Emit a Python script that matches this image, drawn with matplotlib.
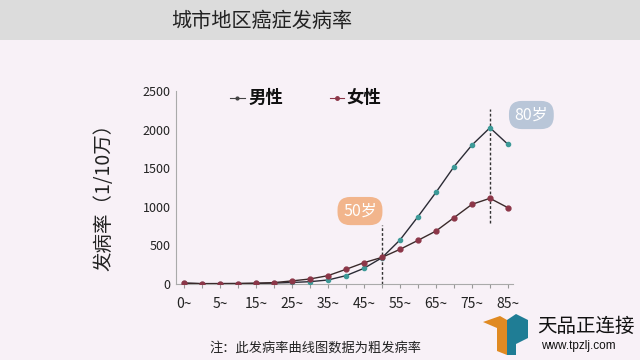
import numpy as np
import matplotlib.pyplot as plt
from matplotlib.patches import Rectangle, Polygon

plt.rcParams['font.family'] = ['Noto Sans CJK SC', 'DejaVu Sans']

# data
ages = ['0~', '1~', '5~', '10~', '15~', '20~', '25~', '30~', '35~', '40~',
        '45~', '50~', '55~', '60~', '65~', '70~', '75~', '80~', '85~']
male = [12, 5, 5, 6, 8, 12, 20, 30, 52, 108, 203, 340, 570, 872, 1187, 1519, 1800, 2024, 1809]
female = [10, 4, 5, 6, 10, 18, 40, 65, 108, 190, 276, 345, 449, 565, 686, 859, 1032, 1110, 988]
tick_labels = [a if i % 2 == 0 else '' for i, a in enumerate(ages)]

bg = '#f8f1f7'
fig = plt.figure(figsize=(6.4, 3.6), dpi=100, facecolor=bg)

# title band
fig.patches.append(Rectangle((0, 1 - 40 / 360), 1, 40 / 360, transform=fig.transFigure,
                             facecolor='#dcdcdc', edgecolor='none', zorder=0))
fig.text(262 / 640, 1 - 21 / 360, '城市地区癌症发病率', ha='center', va='center',
         fontsize=14.5, color='#222222')

ax = fig.add_axes([176 / 640, 1 - 284 / 360, (513 - 176) / 640, (284 - 91) / 360])
ax.set_facecolor(bg)
x = np.arange(len(ages))

ax.plot(x, male, color='#2b2b35', lw=1.0, marker='o', ms=3,
        mfc='#3d9a98', mec='#3d9a98', zorder=3)
ax.plot(x, female, color='#3a2a2a', lw=1.0, marker='o', ms=3.5,
        mfc='#8c3648', mec='#8c3648', zorder=3)

# dashed markers at 50 and 80
ax.vlines(11, 0, 760, colors='#333333', linestyles=(0, (2, 1.5)), lw=1.0, zorder=2)
ax.vlines(17, 790, 2270, colors='#333333', linestyles=(0, (2, 1.5)), lw=1.0, zorder=2)

ax.set_xlim(-0.44, 18.28)
ax.set_ylim(0, 2500)
ax.set_yticks([0, 500, 1000, 1500, 2000, 2500])
ax.set_xticks(x)
ax.set_xticklabels(tick_labels)
ax.tick_params(axis='x', length=3, color='#999999', labelsize=10, labelcolor='#222222', pad=6)
ax.tick_params(axis='y', length=0, labelsize=9, labelcolor='#222222', pad=4)
for s in ['top', 'right']:
    ax.spines[s].set_visible(False)
ax.spines['left'].set_color('#aaaaaa')
ax.spines['bottom'].set_color('#aaaaaa')

ax.set_ylabel('发病率（1/10万）', fontsize=14, color='#222222')
ax.yaxis.set_label_coords(-(176 - 114) / 337, 0.477)

# legend-like labels
ly_leg = 2410
ax.plot([2.55, 3.4], [ly_leg, ly_leg], color='#444444', lw=0.8, clip_on=False)
ax.plot([2.95], [ly_leg], 'o', ms=2, color='#444444', clip_on=False)
ax.text(3.6, ly_leg, '男性', fontsize=12.5, va='center', color='#111111', fontweight='bold')
ax.plot([8.1, 8.9], [ly_leg, ly_leg], color='#8c3648', lw=0.8, clip_on=False)
ax.plot([8.5], [ly_leg], 'o', ms=2.5, color='#8c3648', clip_on=False)
ax.text(9.0, ly_leg, '女性', fontsize=12.5, va='center', color='#111111', fontweight='bold')

# age badges
ax.text(9.78, 945, '50岁', fontsize=11.5, ha='center', va='center', color='white',
        bbox=dict(boxstyle='round,pad=0.35,rounding_size=0.8', fc='#f2b58c', ec='none'))
ax.text(19.3, 2189, '80岁', fontsize=11.5, ha='center', va='center', color='white',
        clip_on=False,
        bbox=dict(boxstyle='round,pad=0.35,rounding_size=0.8', fc='#b9c6d8', ec='none'))

# footnote
fig.text(315 / 640, 1 - 348 / 360, '注：此发病率曲线图数据为粗发病率', ha='center', va='center',
         fontsize=9.5, color='#222222')

# logo
def fp(px, py):
    return [px / 640, 1 - py / 360]

fig.patches.append(Polygon([fp(483, 322), fp(500, 316), fp(507, 320), fp(507, 355),
                            fp(497, 351), fp(497, 328)], closed=True,
                           transform=fig.transFigure, facecolor='#e08a22', edgecolor='none'))
fig.patches.append(Polygon([fp(507, 320), fp(516, 314), fp(528, 320), fp(528, 338),
                            fp(516, 344), fp(516, 355), fp(507, 355)], closed=True,
                           transform=fig.transFigure, facecolor='#1f7d95', edgecolor='none'))
fig.text(537 / 640, 1 - 326 / 360, '天品正连接', fontsize=14, va='center', ha='left', color='#111111')
fig.text(541 / 640, 1 - 346 / 360, 'www.tpzlj.com', fontsize=8.5, va='center', ha='left',
         color='#111111', family='Liberation Sans')

fig.savefig('out.png', dpi=100, facecolor=bg)
